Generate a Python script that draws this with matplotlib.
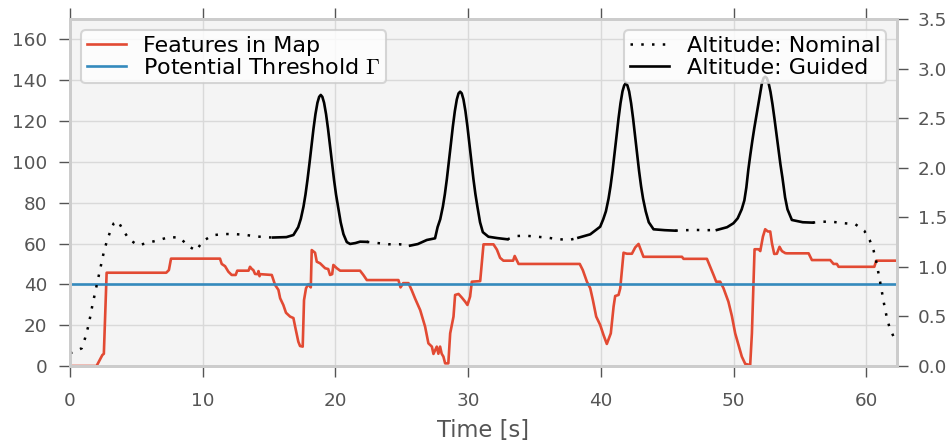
import numpy as np
import matplotlib
matplotlib.use("Agg")
import matplotlib.pyplot as plt

# ---- data ----
feat_t = [0.0, 2.0, 2.44, 2.55, 2.76, 7.25, 7.45, 7.61, 11.3, 11.43, 11.68, 11.93, 12.18, 12.48,
          12.6, 13.45, 13.56, 13.7, 13.81, 13.94, 14.15, 14.2, 14.28, 14.32, 15.2, 15.45, 15.7,
          15.83, 16.07, 16.27, 16.58, 16.83, 16.96, 17.2, 17.33, 17.53, 17.63, 17.78, 17.96, 18.14,
          18.21, 18.46, 18.59, 18.84, 18.97, 19.22, 19.45, 19.59, 19.75, 19.84, 20.1, 20.35, 21.85,
          22.1, 22.36, 24.74, 24.9, 25.1, 25.5, 25.75, 26.0, 26.38, 26.75, 27.0, 27.26, 27.38,
          27.63, 27.75, 27.88, 28.0, 28.13, 28.26, 28.5, 28.64, 28.89, 29.01, 29.27, 29.52, 29.77,
          29.94, 30.14, 30.27, 30.9, 31.15, 31.9, 32.16, 32.4, 32.65, 33.38, 33.5, 33.79, 38.4,
          38.63, 38.94, 39.19, 39.39, 39.64, 39.94, 40.19, 40.44, 40.74, 40.95, 41.07, 41.32, 41.45,
          41.7, 41.95, 42.33, 42.58, 42.83, 43.0, 43.2, 46.1, 46.22, 47.98, 48.23, 48.48, 48.68,
          48.98, 49.23, 49.6, 49.86, 50.11, 50.36, 50.61, 50.87, 51.24, 51.37, 51.49, 51.57, 51.87,
          52.0, 52.2, 52.37, 52.57, 52.75, 52.88, 53.05, 53.25, 53.45, 53.63, 53.88, 54.0, 55.64,
          55.89, 57.27, 57.52, 57.77, 57.9, 60.59, 60.74, 62.3]
feat_v = [0, 0, 5.4, 6, 45.7, 45.7, 47, 52.6, 52.6, 50, 48.9, 46.2, 44.6, 44.6,
          46.7, 46.7, 48.6, 47.5, 47, 45.1, 45, 46.5, 44, 45, 44.6, 39.7, 37.3,
          33.2, 29.9, 26.1, 24.2, 23.5, 19.3, 11.9, 9.8, 9.5, 32.3, 38.1, 40.1, 38.5,
          56.8, 55.5, 51.1, 50.3, 49.5, 47.9, 47.5, 44.6, 45, 49.5, 47.9, 46.7, 46.7,
          44.6, 42.1, 42.1, 38.5, 40.6, 40.6, 37, 33, 27.4, 19.3, 11.1, 9.5, 5.9,
          9.5, 6, 9.5, 6, 4.6, 1.3, 1.3, 16, 24.2, 34.8, 35.3, 33.5, 31.5,
          29.9, 34, 41.3, 41.6, 59.6, 59.6, 57, 53, 51.6, 51.6, 53.9, 50, 50,
          47, 41.3, 38.1, 32.3, 24.2, 20.1, 15.2, 10.8, 16, 29.1, 34.3, 34.8, 38,
          55.5, 55, 55, 58.1, 59.8, 56.9, 53.5, 53.5, 52.5, 52.5, 48.6, 44.6, 41.3,
          41.3, 38.1, 31.5, 24.5, 16, 10.3, 4.6, 1, 0.5, 16, 40.5, 57.2, 57.2,
          56.3, 63.4, 67, 65.9, 65.9, 60.1, 54.9, 55, 58.4, 56.3, 55.3, 55.2, 55.2,
          51.9, 51.9, 50, 50, 48.6, 48.6, 51.6, 51.6]

threshold = 40

alt_t = [0.0, 0.17, 0.88, 1.15, 1.36, 1.53, 1.68, 1.86, 2.03, 2.21, 2.39, 2.56, 2.79, 3.07, 3.3,
         3.54, 3.75, 3.99, 4.45, 5.12, 5.9, 6.71, 7.48, 8.29, 8.87, 9.5, 10.0, 10.72, 11.5, 12.3,
         13.14, 13.96, 14.82, 15.3, 16.3, 16.83,
         17.19, 17.39, 17.59, 17.74, 17.89, 18.04, 18.19, 18.34, 18.49, 18.64, 18.77, 18.89,
         19.01, 19.14, 19.29, 19.44, 19.59, 19.74, 19.89, 20.04, 20.19, 20.39, 20.6, 20.85,
         21.1, 21.5, 21.85, 22.36, 23.16, 23.99, 24.82, 25.62, 26.2, 26.88, 27.5,
         27.69, 27.89, 28.09, 28.24, 28.39, 28.54, 28.69, 28.84, 28.99, 29.14, 29.27, 29.39,
         29.51, 29.64, 29.79, 29.94, 30.09, 30.24, 30.39, 30.54, 30.69, 30.89, 31.1,
         31.52, 32.2, 32.95, 33.6, 34.35, 35.2, 36.0, 36.8, 37.7, 38.3, 39.19, 39.94,
         40.17, 40.37, 40.57, 40.72, 40.87, 41.02, 41.17, 41.32, 41.47, 41.62, 41.75, 41.87,
         41.99, 42.12, 42.27, 42.42, 42.57, 42.72, 42.87, 43.02, 43.17, 43.37, 43.6,
         43.96, 44.8, 45.6, 46.4, 47.2, 48.0, 48.73, 49.5, 49.98, 50.3,
         50.6, 50.8, 50.95, 51.1, 51.25, 51.4, 51.55, 51.7, 51.85, 52.0, 52.12, 52.25, 52.37,
         52.49, 52.62, 52.77, 52.92, 53.07, 53.22, 53.37, 53.52, 53.67, 53.87, 54.05,
         54.38, 55.2, 55.95, 56.72, 57.52, 58.33, 59.16, 59.83, 60.24, 60.54, 60.74,
         61.04, 61.34, 61.51, 61.72, 62.04, 62.2]
alt_v = [0.13, 0.138, 0.178, 0.286, 0.393, 0.501, 0.608, 0.72, 0.827, 0.938, 1.049, 1.157, 1.264, 1.372, 1.44,
         1.463, 1.43, 1.372, 1.278, 1.217, 1.244, 1.271, 1.301, 1.294, 1.213, 1.163, 1.258, 1.318, 1.331, 1.331,
         1.324, 1.308, 1.298, 1.296, 1.30, 1.321,
         1.40, 1.485, 1.608, 1.73, 1.878, 2.043, 2.218, 2.39, 2.54, 2.655, 2.715, 2.734,
         2.715, 2.655, 2.54, 2.39, 2.218, 2.043, 1.878, 1.73, 1.608, 1.45, 1.33, 1.25,
         1.231, 1.24, 1.254, 1.252, 1.24, 1.228, 1.228, 1.214, 1.23, 1.271, 1.288,
         1.40, 1.48, 1.608, 1.734, 1.886, 2.057, 2.237, 2.415, 2.57, 2.689, 2.75, 2.767,
         2.75, 2.689, 2.57, 2.415, 2.237, 2.057, 1.886, 1.734, 1.608, 1.45, 1.35,
         1.304, 1.29, 1.278, 1.311, 1.314, 1.304, 1.294, 1.278, 1.274, 1.294, 1.328, 1.405,
         1.48, 1.56, 1.688, 1.814, 1.966, 2.137, 2.317, 2.495, 2.65, 2.77, 2.83, 2.852,
         2.83, 2.77, 2.65, 2.495, 2.317, 2.137, 1.966, 1.814, 1.688, 1.56, 1.45,
         1.379, 1.37, 1.365, 1.37, 1.372, 1.37, 1.372, 1.40, 1.44, 1.49,
         1.58, 1.67, 1.80, 1.98, 2.13, 2.27, 2.40, 2.52, 2.64, 2.76, 2.85, 2.905, 2.918,
         2.905, 2.858, 2.765, 2.64, 2.494, 2.338, 2.18, 2.032, 1.899, 1.70, 1.58,
         1.473, 1.45, 1.446, 1.456, 1.453, 1.44, 1.43, 1.365, 1.271, 1.163, 1.052,
         0.84, 0.615, 0.504, 0.396, 0.296, 0.25]

guided_start = [15.3, 25.62, 38.3, 48.73]
guided_end = [22.36, 32.95, 45.6, 55.95]

# ---- styling ----
RED = "#E24A33"
BLUE = "#348ABD"
GRAY_TXT = "#555555"
SPINE = "#cccccc"

plt.rcParams["font.family"] = ["DejaVu Sans"]
plt.rcParams["mathtext.fontset"] = "cm"

fig = plt.figure(figsize=(9.53, 4.42), dpi=100)
ax = fig.add_axes([70 / 953, 1 - 366 / 442, (897 - 70) / 953, (366 - 19) / 442])
ax.set_facecolor("#f4f4f4")
ax2 = ax.twinx()

t = np.array(alt_t)
a = np.array(alt_v)
mask_g = np.zeros_like(t, dtype=bool)
for s, e in zip(guided_start, guided_end):
    mask_g |= (t >= s) & (t <= e)
mask_n = ~mask_g
for s, e in zip(guided_start, guided_end):
    mask_n |= np.isclose(t, s) | np.isclose(t, e)

a_nom = np.where(mask_n, a, np.nan)
a_gui = np.where(mask_g, a, np.nan)

l3, = ax2.plot(t, a_nom, color="black", lw=1.8, linestyle=(0, (1, 3.3)), label="Altitude: Nominal")
l4, = ax2.plot(t, a_gui, color="black", lw=1.9, label="Altitude: Guided",
               solid_joinstyle="round")

l1, = ax.plot(feat_t, feat_v, color=RED, lw=1.9, label="Features in Map")
l2 = ax.axhline(threshold, color=BLUE, lw=1.9, label=r"Potential Threshold $\Gamma$")

ax.set_xlim(0, 62.3)
ax.set_ylim(0, 170)
ax2.set_ylim(0, 3.5)
ax.set_xticks(np.arange(0, 61, 10))
ax.set_yticks(np.arange(0, 161, 20))
ax2.set_yticks(np.arange(0, 3.51, 0.5))
ax2.set_yticklabels([f"{v:.1f}" for v in np.arange(0, 3.51, 0.5)])

ax.grid(True, color="#d9d9d9", lw=1.0)
ax.set_axisbelow(True)
for axis in (ax, ax2):
    for sp in axis.spines.values():
        sp.set_color(SPINE)
        sp.set_linewidth(2)
ax.tick_params(axis="x", which="both", direction="out", top=True, bottom=True, length=8,
               width=1, color=GRAY_TXT, labelcolor=GRAY_TXT, labelsize=13.2, pad=10.5)
ax.tick_params(axis="y", direction="out", left=True, right=False, length=8, width=1,
               color=GRAY_TXT, labelcolor=GRAY_TXT, labelsize=13.2, pad=8.5)
ax2.tick_params(axis="y", direction="out", right=True, length=8, width=1,
                color=GRAY_TXT, labelcolor=GRAY_TXT, labelsize=13.2, pad=7)

ax.set_xlabel("Time [s]", fontsize=16.3, color=GRAY_TXT, labelpad=6.5)

leg_kw = dict(fontsize=16, handlelength=1.75, framealpha=0.8, edgecolor="#cccccc",
              fancybox=True, borderpad=0.25, labelspacing=0.1, handletextpad=0.8,
              borderaxespad=0.5)
leg1 = ax2.legend(handles=[l1, l2], loc="upper left", **leg_kw)
leg1.get_frame().set_linewidth(1.5)
ax2.add_artist(leg1)
leg2 = ax2.legend(handles=[l3, l4], loc="upper right", **leg_kw)
leg2.get_frame().set_linewidth(1.5)

fig.savefig("out.png", dpi=100, facecolor="white")
